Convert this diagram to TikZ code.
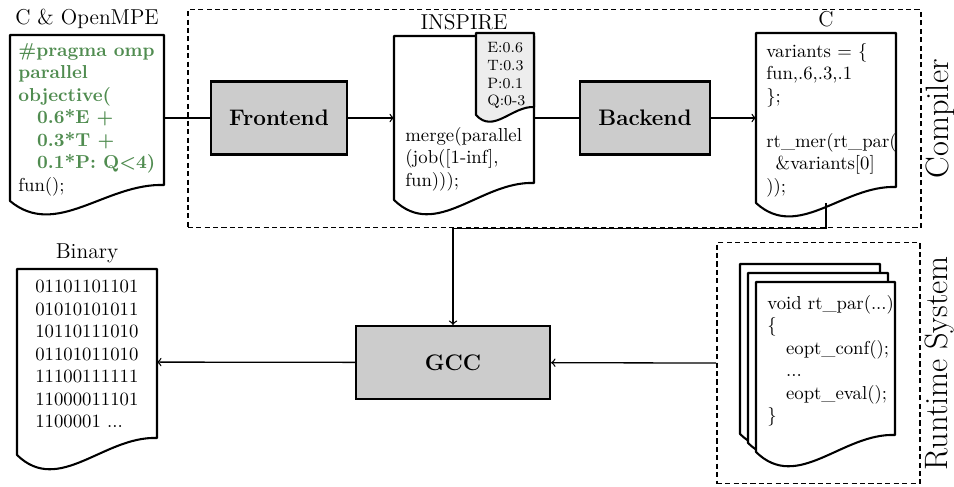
\documentclass[tikz,border=0pt]{standalone}
\usepackage{tikz}
\usetikzlibrary{arrows,positioning}

\definecolor{ompgreen}{RGB}{80,140,80}
\newcommand{\pxu}{0.534pt}
\newcommand{\omp}[1]{\textcolor{ompgreen}{\bfseries #1}}

% page with a wavy lower edge: [fill] name, x, y, width, height, rise
\newcommand{\docpage}[7][white]{%
  \node[page, minimum width=#5*\pxu, minimum height=#6*\pxu] (#2) at (#3,#4) {};
  \draw[pageline, fill=#1] (#2.north west) -- (#2.north east)
    -- ([yshift=#7*\pxu]#2.south east)
    .. controls +(-0.38*#5,-0.12*#7) and +(0.3*#5,2.4*#7) .. (#2.south west) -- cycle;
}

\begin{document}
\begin{tikzpicture}[x=\pxu, y=-\pxu, >=to,
    page/.style={rectangle, inner sep=0pt, outer sep=0pt, anchor=north west},
    pageline/.style={line width=1.1pt, line join=round},
    stage/.style={rectangle, draw, line width=1.1pt, fill=gray!40, font=\large\bfseries, minimum height=73*\pxu},
    frame/.style={draw, line width=0.8pt, dash pattern=on 2.7pt off 1.8pt, inner sep=0pt, anchor=north west},
    code/.style={anchor=north west, inner sep=0pt, align=left},
    tag/.style={inner sep=3pt, font=\fontsize{11.5}{14}\selectfont},
    side/.style={font=\LARGE, rotate=90, anchor=north, inner sep=2pt},
    flow/.style={line width=0.7pt}]
    \useasboundingbox (0,0) rectangle (954,487);

    % boxes round the two parts
    \node[frame, minimum width=733*\pxu, minimum height=218*\pxu] (compiler) at (187,9) {};
    \node[side] (compilertag) at (compiler.east) {Compiler};
    \node[frame, minimum width=203*\pxu, minimum height=241*\pxu] (runtime) at (716,242) {};
    \node[side] (runtimetag) at (runtime.east) {Runtime System};

    % pages
    \docpage{src}{10}{35}{154}{166}{16}
    \docpage{inspire}{394}{36}{140}{164}{17}
    \docpage[black!7]{irmeta}{476}{33}{58}{82}{8}
    \docpage{cout}{756}{33}{140}{170}{16}
    \docpage{binary}{17}{269}{140}{186}{17}
    \docpage{rtlib3}{740}{264}{140}{170}{17}
    \docpage{rtlib2}{748}{273}{140}{170}{17}
    \docpage{rtlib}{756}{282}{139}{170}{17}

    \node[tag, above=0pt of src] (srctag) {C \& OpenMPE};
    \node[tag, above=0pt of inspire] (inspiretag) {INSPIRE};
    \node[tag, above=0pt of cout] (couttag) {C};
    \node[tag, above=0pt of binary] (binarytag) {Binary};

    \node[code] (srccode) at (18,43) {\omp{\#pragma omp}\\ \omp{parallel}\\ \omp{objective(}\\
      \omp{\quad 0.6*E +}\\ \omp{\quad 0.3*T +}\\ \omp{\quad 0.1*P: Q<4)}\\ fun();};
    \node[code] (irtext) at (405,127) {merge(parallel\\ (job([1-inf],\\ fun)));};
    \node[code, font=\footnotesize] (irmetatext) at (487,42) {E:0.6\\ T:0.3\\ P:0.1\\ Q:0-3};
    \node[code] (couttext) at (766,43) {variants = \{\\ fun,.6,.3,.1\\ \};\\[12pt]
      rt\_mer(rt\_par(\\ \enspace\&variants[0]\\ ));};
    \node[code] (binarytext) at (35,280) {01101101101\\ 01010101011\\ 10110111010\\
      01101011010\\ 11100111111\\ 11000011101\\ 1100001 ...};
    \node[code] (rtlibtext) at (767,295) {void rt\_par(...)\\ \{\\ \quad eopt\_conf();\\
      \quad ...\\ \quad eopt\_eval();\\ \}};

    % stages
    \node[stage, minimum width=136*\pxu] (frontend) at (279,118) {Frontend};
    \node[stage, minimum width=130*\pxu] (backend) at (645,118) {Backend};
    \node[stage, minimum width=194*\pxu] (gcc) at (453,362.5) {GCC};

    \coordinate (cdrop) at (cout.south |- compiler.south);
    \draw[flow] (src) -- (frontend);
    \draw[flow,->] (frontend) -- (inspire);
    \draw[flow] (inspire) -- (backend);
    \draw[flow,->] (backend) -- (cout);
    \draw[flow,->] (cout.south) -- (cdrop) -| (gcc.north);
    \draw[flow,->] (runtime) -- (gcc);
    \draw[flow,->] (gcc) -- (binary);
\end{tikzpicture}
\end{document}
